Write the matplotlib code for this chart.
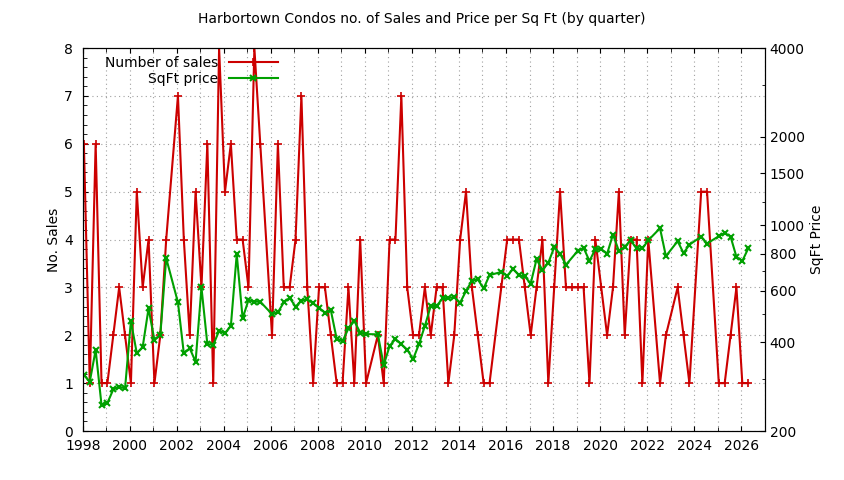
import numpy as np
import matplotlib.pyplot as plt
from matplotlib.ticker import FixedLocator, NullFormatter, MultipleLocator

plt.rcParams['font.family'] = 'DejaVu Sans'

# quarter index since 1998 Q1, sales count, price per sq ft (None = no data)
quarters = [0, 1, 2, 3, 4, 5, 6, 7, 8, 9, 10, 11, 12, 13, 14, 16, 17, 18, 19, 20,
            21, 22, 23, 24, 25, 26, 27, 28, 29, 30, 32, 33, 34, 35, 36, 37, 38, 39, 40, 41,
            42, 43, 44, 45, 46, 47, 48, 50, 51, 52, 53, 54, 55, 56, 57, 58, 59, 60, 61, 62,
            63, 64, 65, 66, 67, 68, 69, 71, 72, 73, 74, 75, 76, 77, 78, 79, 80, 81, 82, 83,
            84, 85, 86, 87, 88, 89, 90, 91, 92, 93, 94, 95, 96, 98, 99, 101, 102, 103, 105, 106,
            108, 109, 110, 111, 112, 113]
sales = [6, 1, 6, 1, 1, 2, 3, 2, 1, 5, 3, 4, 1, 2, 4, 7, 4, 2, 5, 3,
         6, 1, 8, 5, 6, 4, 4, 3, 8, 6, 2, 6, 3, 3, 4, 7, 3, 1, 3, 3,
         2, 1, 1, 3, 1, 4, 1, 2, 1, 4, 4, 7, 3, 2, 2, 3, 2, 3, 3, 1,
         2, 4, 5, 3, 2, 1, 1, 3, 4, 4, 4, 3, 2, 3, 4, 1, 3, 5, 3, 3,
         3, 3, 1, 4, 3, 2, 3, 5, 2, 4, 4, 1, 4, 1, 2, 3, 2, 1, 5, 5,
         1, 1, 2, 3, 1, 1]
price = [310, 294, 377, 245, 249, 277, 283, 279, 473, 367, 386, 522, 407, 424, 773, 547, 367, 382, 344, 615,
         395, 392, 438, 430, 455, 797, 483, 557, 550, 550, 499, 506, 547, 567, 529, 554, 560, 543, 524, 505,
         515, 411, 404, 446, 473, 432, 427, 426, 335, 389, 411, 394, 378, 351, 395, 455, 532, 532, 564, 567,
         569, 546, 598, 648, 655, 610, 677, 694, 673, 711, 677, 670, 634, 767, 703, 746, 841, 800, 734, None,
         818, 838, 756, 830, 830, 800, 930, 818, 845, 889, 834, 834, 889, 977, 785, 883, 804, 859, 915, 867,
         918, 942, 915, 781, 756, 834]

years = 1998 + np.array(quarters) / 4.0 + 0.05
price_years = [y for y, p in zip(years, price) if p is not None]
price_vals = [p for p in price if p is not None]

RED = '#cc0000'
GREEN = '#00a000'

fig = plt.figure(figsize=(8.44, 4.80), dpi=100)
ax = fig.add_axes([0.098, 0.102, 0.808, 0.798])
ax2 = ax.twinx()

l1, = ax.plot(years, sales, color=RED, lw=1.5, marker='+', ms=6, mew=1.2, label='Number of sales')
l2, = ax2.plot(price_years, price_vals, color=GREEN, lw=1.5, marker='x', ms=4, mew=1.5, label='SqFt price')

ax.set_xlim(1998, 2027)
ax.set_ylim(0, 8)
ax.xaxis.set_major_locator(MultipleLocator(2))
ax.xaxis.set_minor_locator(MultipleLocator(1))
ax.yaxis.set_major_locator(MultipleLocator(1))
ax.yaxis.set_minor_locator(MultipleLocator(0.2))
ax.grid(True, axis='y', which='major', color='#a0a0a0', ls=(0, (1, 3)), lw=0.8)
ax.grid(True, axis='x', which='both', color='#a0a0a0', ls=(0, (1, 3)), lw=0.8)
ax.tick_params(direction='in', which='both', top=True, labelsize=10)
ax.tick_params(axis='x', pad=6)
ax.tick_params(axis='y', pad=7)
ax.tick_params(which='minor', length=3)
ax.set_ylabel('No. Sales', fontsize=10, labelpad=2)

ax2.set_yscale('log')
ax2.set_ylim(200, 4000)
ax2.yaxis.set_major_locator(FixedLocator([200, 400, 600, 800, 1000, 1500, 2000, 4000]))
ax2.yaxis.set_major_formatter(plt.FuncFormatter(lambda v, p: f'{int(v)}'))
ax2.yaxis.set_minor_locator(FixedLocator([300, 500, 700, 900, 1200, 3000]))
ax2.yaxis.set_minor_formatter(NullFormatter())
ax2.tick_params(direction='in', which='both', labelsize=10)
ax2.set_ylabel('SqFt Price', fontsize=10, labelpad=4)

ax.legend(handles=[l1, l2], loc='upper left', bbox_to_anchor=(0.02, 1.0), frameon=False,
          markerfirst=False, fontsize=10, handlelength=3.5, borderaxespad=0.2, labelspacing=0.1)

fig.suptitle('Harbortown Condos no. of Sales and Price per Sq Ft (by quarter)', fontsize=10, y=0.975)
fig.savefig('out.png', dpi=100)
